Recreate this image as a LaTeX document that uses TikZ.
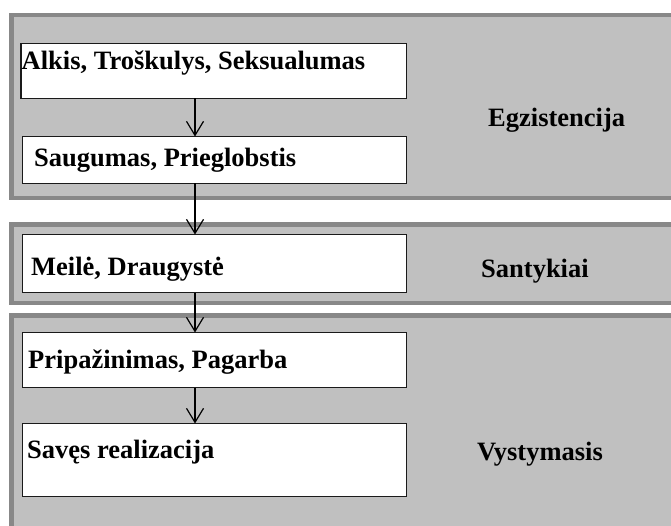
\documentclass[tikz,border=0pt]{standalone}
\usepackage{fontspec}
\setmainfont{Liberation Serif}
\usetikzlibrary{arrows.meta}
\definecolor{bandfill}{HTML}{C0C0C0}
\definecolor{bandline}{HTML}{888888}
\definecolor{boxline}{HTML}{1A1A1A}
\begin{document}
\begin{tikzpicture}[x=1pt,y=-1pt,
  band/.style={fill=bandfill,draw=bandline,line width=4.5pt},
  box/.style={draw=boxline,fill=white,line width=1.6pt,inner sep=0pt,outer sep=0pt,anchor=north west},
  txt/.style={anchor=base west,inner sep=0pt,font=\bfseries\fontsize{26.5}{30}\selectfont},
  arr/.style={line width=1.2pt,-{Straight Barb[length=14pt,width=17pt,line width=1.2pt]}}]
\clip (0,0) rectangle (671,526);
\fill[white] (0,0) rectangle (671,526);
% bands
\draw[band] (11.5,15) rectangle (680,198);
\draw[band] (11.5,224.5) rectangle (680,303);
\draw[band] (11.5,315.5) rectangle (680,540);
% boxes
\node[box,minimum width=385.5pt,minimum height=55pt] (b1) at (21,43.5) {};
\node[box,minimum width=384pt,minimum height=47pt] (b2) at (22.5,136.5) {};
\node[box,minimum width=384pt,minimum height=58pt] (b3) at (22.5,234.5) {};
\node[box,minimum width=384pt,minimum height=55pt] (b4) at (22.5,332.5) {};
\node[box,minimum width=384pt,minimum height=73pt] (b5) at (22.5,423.5) {};
% texts
\node[txt] (t1) at (21.5,70) {Alkis, Troškulys, Seksualumas};
\node[txt] (t2) at (34,167) {Saugumas, Prieglobstis};
\node[txt] (t3) at (31,276) {Meilė, Draugystė};
\node[txt] (t4) at (28,368) {Pripažinimas, Pagarba};
\node[txt] (t5) at (27,458) {Savęs realizacija};
\node[txt] (l1) at (488,127) {Egzistencija};
\node[txt] (l2) at (481,277) {Santykiai};
\node[txt] (l3) at (477,460) {Vystymasis};
% arrows
\coordinate (ax) at (195,0);
\draw[arr] (b1.south -| ax) -- (b2.north -| ax);
\draw[arr] (b2.south -| ax) -- (b3.north -| ax);
\draw[arr] (b3.south -| ax) -- (b4.north -| ax);
\draw[arr] (b4.south -| ax) -- (b5.north -| ax);
\end{tikzpicture}
\end{document}
